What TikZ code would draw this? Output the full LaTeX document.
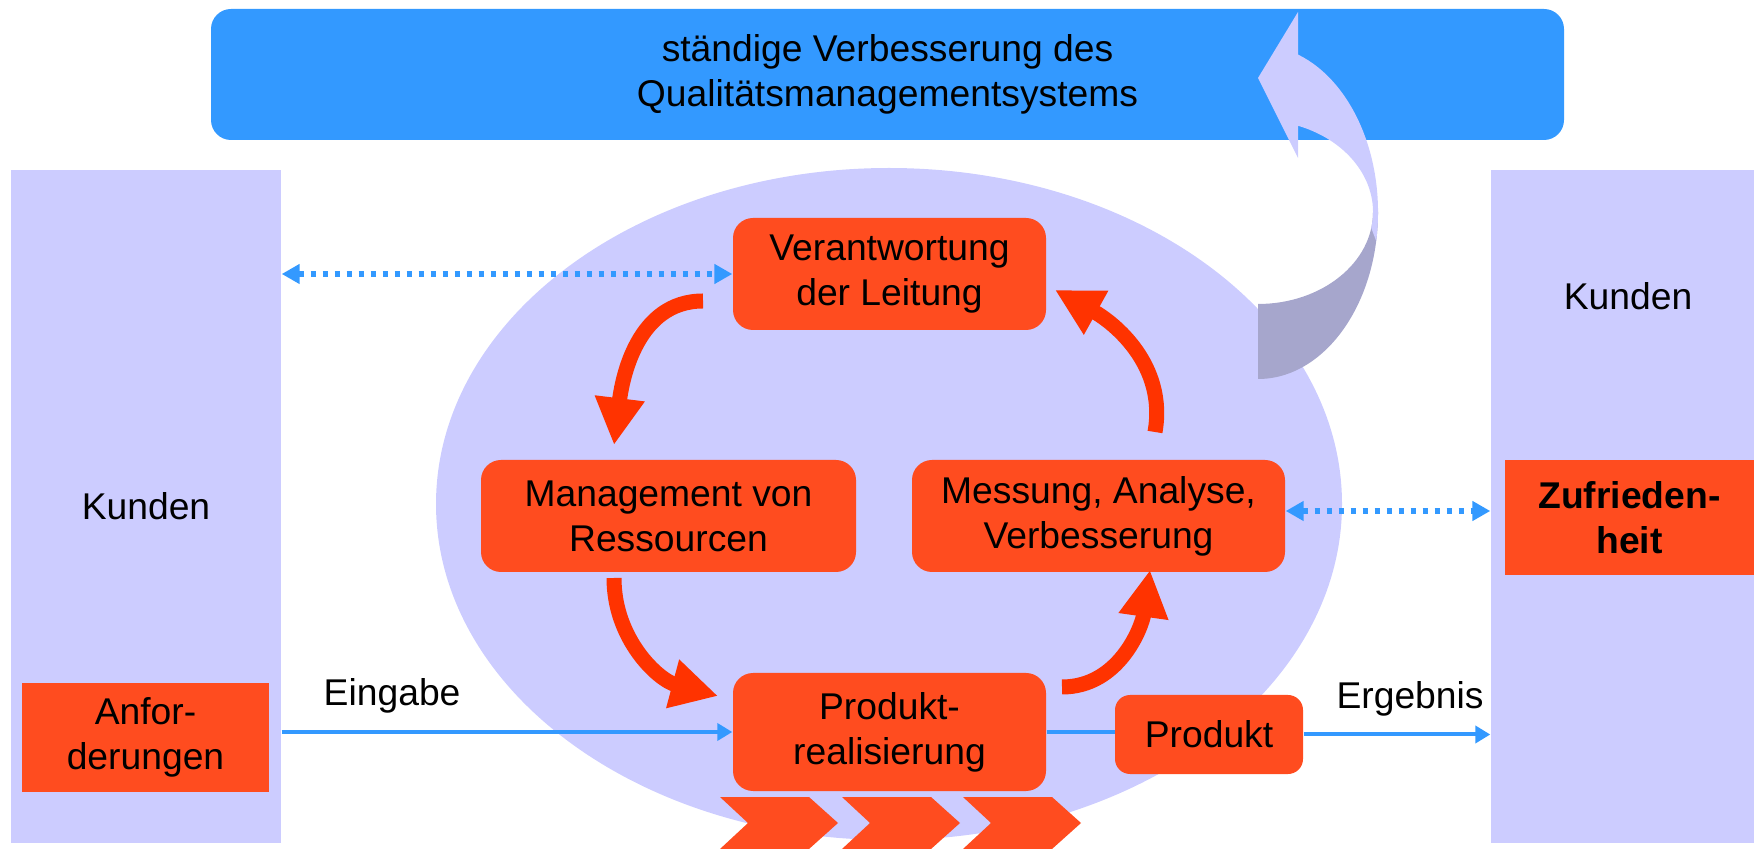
\documentclass[tikz,border=0pt]{standalone}
\usepackage{fontspec}
\setmainfont{Liberation Sans}
\usepackage{tikz}
\usetikzlibrary{arrows.meta, positioning,
calc % for the end points of the ribbon arrow
}
\definecolor{qmblue}{RGB}{51,153,255}
\definecolor{lavender}{RGB}{204,204,255}
\definecolor{ribbondark}{RGB}{166,166,204}
\definecolor{boxred}{RGB}{255,76,31}
\definecolor{arrowred}{RGB}{255,51,0}
\newcommand{\qmfont}{\fontsize{10.6}{12.8}\selectfont}
\tikzset{%
  every node/.style={font=\qmfont},
  column/.style={fill=lavender, inner sep=0pt, minimum width=27mm, minimum height=67.3mm}, % the two customer bars
  process/.style={fill=boxred, rounded corners=2mm, align=center, inner sep=0pt},
  tag/.style={fill=boxred, align=center, inner sep=0pt},
  cycle arrow/.style={draw=arrowred, line width=1.5mm, -{Triangle[length=4.7mm, width=4.7mm]}},
  flow/.style={draw=qmblue, line width=0.4mm, -{Triangle[length=1.5mm, width=1.7mm]}},
  link/.style={%
    draw=qmblue, line width=0.6mm, dash pattern=on 0.55mm off 0.65mm,
    {Triangle[length=1.8mm, width=1.9mm]}-{Triangle[length=1.8mm, width=1.9mm]}
  }
}

\begin{document}
\begin{tikzpicture}[x=0.1mm, y=0.1mm]
    \useasboundingbox (0,0) rectangle (1754,848);

    \node[column] (kundenL) at (146,341.5) {Kunden};
    \node[column, minimum width=26.3mm] (kundenR) at (1622.5,341.5) {};
    \node (kundenRtxt) at (1628,552) {Kunden};
    \node[tag, minimum width=24.7mm, minimum height=10.9mm] (anf) at (145.5,110.5) {Anfor-\\derungen};
    \node[tag, minimum width=24.9mm, minimum height=11.5mm, font=\qmfont\bfseries] (zuf) at (1629.5,330.5) {Zufrieden-\\heit};

    \fill[lavender] (889,344) ellipse [x radius=45.3mm, y radius=33.6mm];

    \node[fill=qmblue, rounded corners=2mm, inner sep=0pt, align=center,
      minimum width=135.3mm, minimum height=13.1mm] (banner) at (887.5,773.5)
      {ständige Verbesserung des\\Qualitätsmanagementsystems};

    % ribbon arrow: dark back side, then light front with its head
    \coordinate (rib) at (1258,636);
    \fill[ribbondark] ($(rib)+(-90:12mm and 16.7mm)$)
      arc[start angle=-90, end angle=0, x radius=12mm, y radius=16.7mm]
      -- ($(rib)+(0:11.5mm and 9.2mm)$)
      arc[start angle=0, end angle=-90, x radius=11.5mm, y radius=9.2mm] -- cycle;
    \fill[lavender] ($(rib)+(-10:12mm and 16.7mm)$)
      arc[start angle=-10, end angle=70.5, x radius=12mm, y radius=16.7mm]
      -- (1298,836) -- (1258,770) -- (1298,690)
      -- ($(rib)+(69.6:11.5mm and 9.2mm)$)
      arc[start angle=69.6, end angle=-10, x radius=11.5mm, y radius=9.2mm] -- cycle;

    \node[process, minimum width=31.3mm, minimum height=11.2mm] (leitung) at (889.5,574) {Verantwortung\\der Leitung};
    \node[process, minimum width=37.5mm, minimum height=11.2mm] (ressourcen) at (668.5,332) {Management von\\Ressourcen};
    \node[process, minimum width=37.3mm, minimum height=11.2mm] (messung) at (1098.5,332) {Messung, Analyse,\\Verbesserung};
    \node[process, minimum width=31.3mm, minimum height=11.8mm] (realisierung) at (889.5,116) {Produkt-\\realisierung};

    \foreach \x in {720,842,963}
      \fill[boxred] (\x,51) -- ++(89,0) -- ++(29,-26) -- ++(-29,-26) -- ++(-89,0) -- ++(28,26) -- cycle;

    \draw[qmblue, line width=0.4mm] (realisierung.east) -- (realisierung.east -| 1150,0);
    \node[process, rounded corners=1.5mm, minimum width=18.8mm, minimum height=7.9mm] (produkt) at (1209,113.5) {Produkt};

    \coordinate (a1) at (703,547);  \coordinate (a2) at (614,403);
    \coordinate (b1) at (614,270);  \coordinate (b2) at (718,152);
    \coordinate (c1) at (1062,161); \coordinate (c2) at (1150,278);
    \coordinate (d1) at (1155,416); \coordinate (d2) at (1055,558);
    \draw[cycle arrow] (a1) to[out=180, in=83] (a2);
    \draw[cycle arrow] (b1) to[out=270, in=165] (b2);
    \draw[cycle arrow] (c1) to[out=0, in=262] (c2);
    \draw[cycle arrow] (d1) to[out=80, in=331] (d2);

    \draw[link] (leitung.west -| kundenL.east) -- (leitung.west);
    \draw[link] ([yshift=0.5mm]messung.east) -- ([yshift=0.5mm]messung.east -| kundenR.west);
    \draw[flow] (realisierung.west -| kundenL.east) -- node[pos=0.245, above=0.5mm] {Eingabe} (realisierung.west);
    \draw[flow] (produkt.east) -- node[pos=0.57, above=0.5mm] {Ergebnis} (produkt.east -| kundenR.west);
\end{tikzpicture}
\end{document}
